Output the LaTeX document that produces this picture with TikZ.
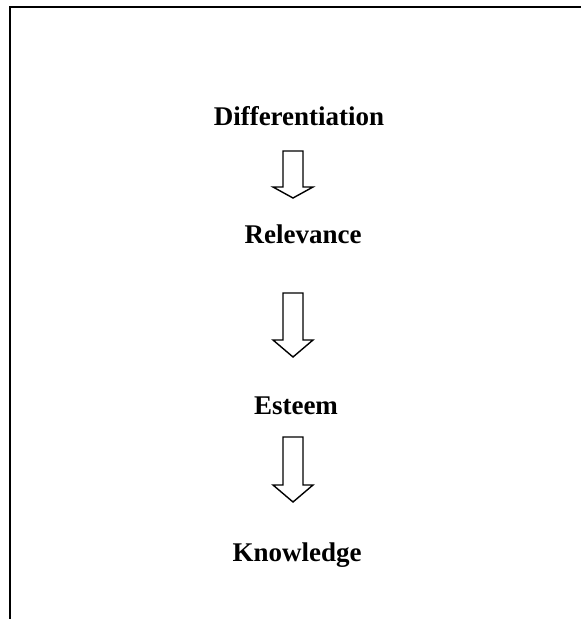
\documentclass[tikz,border=0pt]{standalone}
\usepackage{fontspec}
\setmainfont{Liberation Serif}
\usetikzlibrary{calc}
\tikzset{
  stage/.style={font=\fontsize{27}{30}\selectfont\bfseries,inner sep=0pt,anchor=base},
  rim/.style={line width=2pt,black},
  hollow/.style={draw=black,line width=1.4pt,fill=white,line join=miter},
}

\begin{document}
\begin{tikzpicture}[x=1pt,y=-1pt]
  \useasboundingbox (0,0) rectangle (581,619);
  % open frame: top and left edge only
  \coordinate (tl) at (9.5,6.5);
  \draw[rim] (581,6.5) -- (tl) -- (9.5,619);
  % the four stages
  \node[stage] (diff) at (299,125) {Differentiation};
  \node[stage] (rel)  at (303,243) {Relevance};
  \node[stage] (est)  at (296,414) {Esteem};
  \node[stage] (know) at (297,561) {Knowledge};
  % hollow block arrows: shaft top / head base / tip
  \foreach \top/\base/\tip [count=\k] in {151/187/198, 293/340/357, 437/485/502} {
    \coordinate (s\k) at (293,\top);
    \coordinate (t\k) at (293,\tip);
    \draw[hollow] ($(s\k)+(-10,0)$) -- ($(s\k)+(10,0)$) -- (303,\base)
      -- (313,\base) -- (t\k) -- (273,\base) -- (283,\base) -- cycle;
  }
\end{tikzpicture}
\end{document}
